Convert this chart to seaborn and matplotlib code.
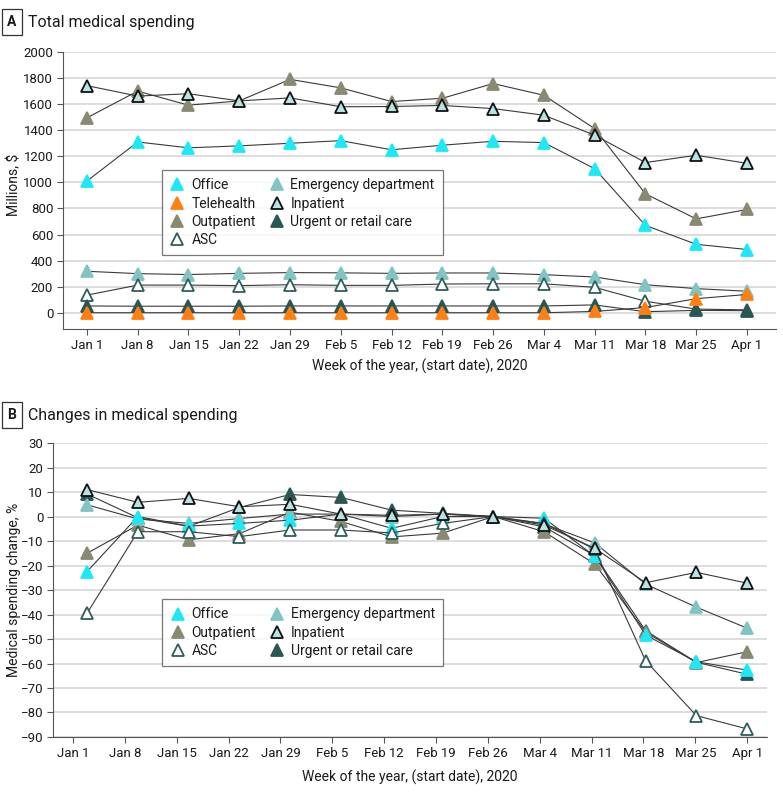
import numpy as np
import pandas as pd
import matplotlib
matplotlib.use("Agg")
import matplotlib.pyplot as plt
import seaborn as sns
from matplotlib.lines import Line2D

weeks = ['Jan 1', 'Jan 8', 'Jan 15', 'Jan 22', 'Jan 29', 'Feb 5', 'Feb 12',
         'Feb 19', 'Feb 26', 'Mar 4', 'Mar 11', 'Mar 18', 'Mar 25', 'Apr 1']

# Panel A: total spending, millions $
office_a = [1010, 1310, 1265, 1280, 1300, 1320, 1250, 1285, 1315, 1305, 1105, 670, 525, 485]
telehealth_a = [0, 0, 0, 0, 0, 0, 0, 0, 0, 0, 10, 40, 108, 140]
outpatient_a = [1495, 1700, 1592, 1625, 1790, 1725, 1620, 1645, 1758, 1668, 1412, 912, 720, 792]
asc_a = [135, 212, 212, 208, 215, 210, 210, 220, 222, 222, 195, 88, 28, 22]
emergency_a = [318, 300, 293, 302, 308, 306, 302, 305, 305, 292, 274, 215, 185, 165]
inpatient_a = [1742, 1662, 1680, 1625, 1648, 1580, 1582, 1590, 1566, 1515, 1362, 1152, 1208, 1146]
urgent_a = [52, 50, 50, 50, 52, 52, 52, 52, 52, 52, 60, 8, 18, 16]

# Panel B: change in spending, %
office_b = [-22.5, 0, -3.9, -2.8, -1.5, 1, -4.8, 0, 0, -0.7, -16.2, -48.4, -59.3, -62.7]
outpatient_b = [-15, -3.5, -9.5, -7, 1.8, -2, -8.3, -6.8, 0, -6.2, -19.4, -47.2, -59.6, -55.2]
asc_b = [-39.5, -6.2, -6.2, -8.2, -5.5, -5.5, -6.7, -2.8, 0, -2.8, -13.4, -58.9, -81.3, -86.7]
emergency_b = [4.8, -1, -2.8, -0.8, 1, 1, 0, 1, 0, -3, -10.8, -27.6, -37, -45.6]
inpatient_b = [11, 5.8, 7.4, 4, 5, 1, 0.5, 1, 0, -3.5, -13, -27, -22.8, -27.2]
urgent_b = [9.2, -0.5, -4, 3.7, 9, 7.8, 2.6, 1.3, 0, -4.2, -16, -46.6, -59.5, -64.4]

labels_a = ['Office', 'Telehealth', 'Outpatient', 'ASC',
            'Emergency department', 'Inpatient', 'Urgent or retail care']
labels_b = ['Office', 'Outpatient', 'ASC',
            'Emergency department', 'Inpatient', 'Urgent or retail care']

# face color, edge color
styles = {
    'Office': ('#1DE9F6', '#1DE9F6'),
    'Telehealth': ('#FF8010', '#FF8010'),
    'Outpatient': ('#8A8A72', '#8A8A72'),
    'ASC': ('white', '#2D5E5A'),
    'Emergency department': ('#82C3C3', '#82C3C3'),
    'Inpatient': ('#B9E2E2', '#111111'),
    'Urgent or retail care': ('#2A5654', '#2A5654'),
}

sns.set_style('white')
plt.rcParams['font.family'] = ['Roboto', 'DejaVu Sans']
plt.rcParams['text.color'] = '#1a1a1a'
plt.rcParams['axes.labelcolor'] = '#1a1a1a'

fig = plt.figure(figsize=(7.83, 7.94), dpi=100)
ax_a = fig.add_axes([0.0805, 0.5856, 0.9105, 0.3489])
ax_b = fig.add_axes([0.0677, 0.0718, 0.9119, 0.3702])

draw_order_a = ['Emergency department', 'ASC', 'Urgent or retail care', 'Telehealth',
                'Office', 'Outpatient', 'Inpatient']
series_a = {'Office': office_a, 'Telehealth': telehealth_a, 'Outpatient': outpatient_a,
            'ASC': asc_a, 'Emergency department': emergency_a,
            'Inpatient': inpatient_a, 'Urgent or retail care': urgent_a}
draw_order_b = ['Urgent or retail care', 'Outpatient', 'Emergency department',
                'Office', 'ASC', 'Inpatient']
series_b = {'Office': office_b, 'Outpatient': outpatient_b, 'ASC': asc_b,
            'Emergency department': emergency_b, 'Inpatient': inpatient_b,
            'Urgent or retail care': urgent_b}

xs = np.arange(len(weeks))
MS = 9
MEW = 1.3


def draw(ax, order, series):
    for name in order:
        fc, ec = styles[name]
        sns.lineplot(x=xs, y=series[name], ax=ax, color='#3a3a3a', linewidth=0.8,
                     marker='^', markersize=MS, markerfacecolor=fc,
                     markeredgecolor=ec, markeredgewidth=MEW, legend=False)


def style_axis(ax):
    sns.despine(ax=ax)
    ax.spines['left'].set_color('#555555')
    ax.spines['bottom'].set_color('#555555')
    ax.grid(axis='y', color='#dddddd', linewidth=1.4)
    ax.set_axisbelow(True)
    ax.tick_params(axis='both', direction='out', length=4, width=0.8,
                   color='#555555', labelcolor='#1a1a1a', labelsize=9.5,
                   left=True, bottom=True, pad=3)
    ax.set_xlabel('Week of the year, (start date), 2020', fontsize=10)


def legend(ax, names, anchor):
    handles = []
    for name in names:
        fc, ec = styles[name]
        handles.append(Line2D([], [], linestyle='none', marker='^', markersize=MS,
                              markerfacecolor=fc, markeredgecolor=ec,
                              markeredgewidth=MEW, label=name))
    leg = ax.legend(handles=handles, ncol=2, loc='upper left', bbox_to_anchor=anchor,
                    frameon=True, fancybox=False, fontsize=10, handlelength=1.0,
                    handletextpad=0.5, labelspacing=0.3, columnspacing=1.0,
                    borderpad=0.6, borderaxespad=0)
    leg.get_frame().set_edgecolor('#555555')
    leg.get_frame().set_linewidth(0.9)


# Panel A
draw(ax_a, draw_order_a, series_a)
style_axis(ax_a)
ax_a.set_xlim(-0.47, 13.57)
ax_a.set_ylim(-125, 2000)
ax_a.set_yticks(np.arange(0, 2001, 200))
ax_a.set_xticks(xs)
ax_a.set_xticklabels(weeks)
ax_a.set_ylabel('Millions, $', fontsize=10)
ax_a.yaxis.set_label_coords(-0.059, 0.52)
ax_a.xaxis.set_label_coords(0.5, -0.108)
legend(ax_a, labels_a, (0.139, 0.574))

# Panel B (ticks sit slightly off the data points, as in the original)
draw(ax_b, draw_order_b, series_b)
style_axis(ax_b)
ax_b.set_xlim(-0.67, 13.39)
ax_b.set_ylim(-90, 30)
ax_b.set_yticks(np.arange(-90, 31, 10))
ax_b.set_xticks(np.linspace(-0.276, 13, len(weeks)))
ax_b.set_xticklabels(weeks)
ax_b.set_ylabel('Medical spending change, %', fontsize=10)
ax_b.yaxis.set_label_coords(-0.045, 0.5)
ax_b.xaxis.set_label_coords(0.5, -0.112)
legend(ax_b, labels_b, (0.153, 0.469))

# panel tags
box = dict(boxstyle='square,pad=0.4', facecolor='white', edgecolor='#333333', linewidth=0.9)
fig.text(0.0153, 1 - 22 / 794, 'A', fontsize=10, fontweight='bold', ha='center', va='center', bbox=box)
fig.text(0.036, 1 - 22 / 794, 'Total medical spending', fontsize=11.5, ha='left', va='center')
fig.text(0.0153, 1 - 415 / 794, 'B', fontsize=10, fontweight='bold', ha='center', va='center', bbox=box)
fig.text(0.036, 1 - 415 / 794, 'Changes in medical spending', fontsize=11.5, ha='left', va='center')

fig.savefig('out.png', dpi=100)
